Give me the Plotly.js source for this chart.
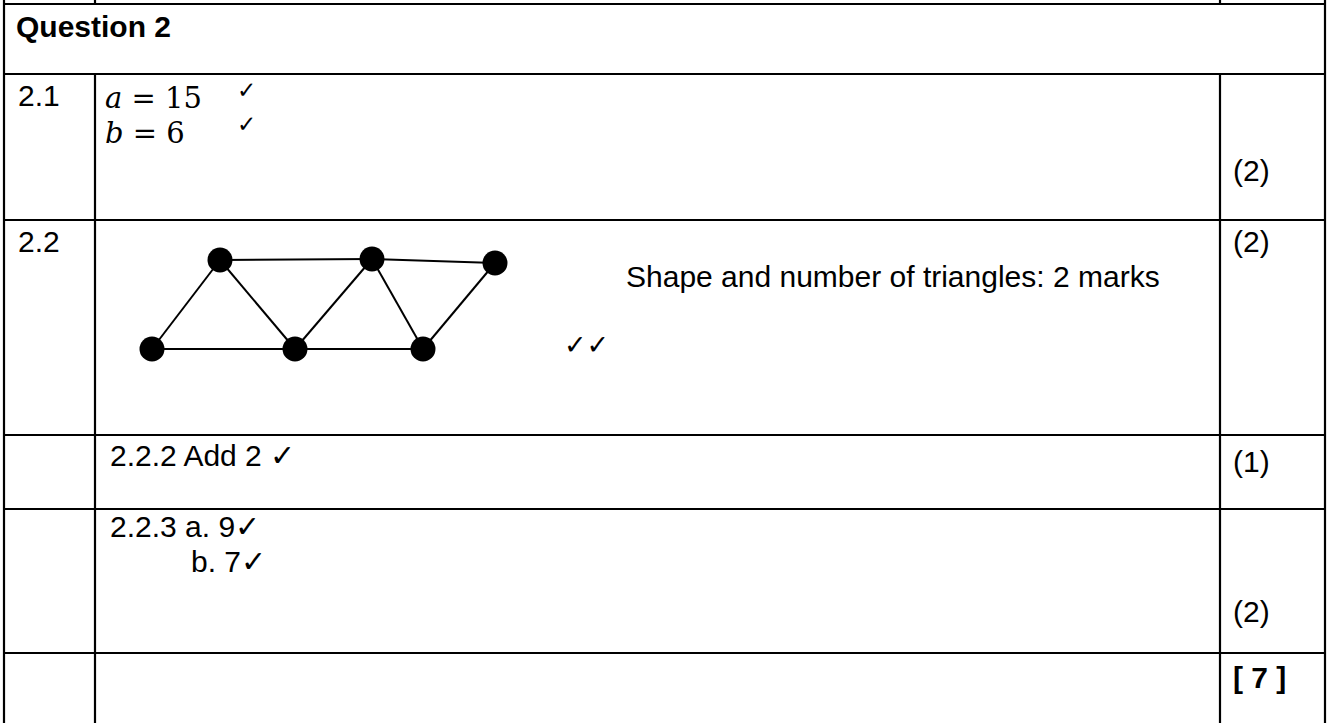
<!DOCTYPE html>
<html>
<head>
<meta charset="utf-8">
<script src="https://cdn.plot.ly/plotly-3.0.1.min.js"></script>
<style>html,body{margin:0;padding:0;background:#fff;}#chart{width:1328px;height:723px;}</style>
</head>
<body>
<div id="chart"></div>
<script>
// ---- data ----
const nodeX = [152, 220, 295, 372, 423, 495];
const nodeY = [349, 260, 349, 259, 349, 263];
const edgeFrom = [0, 1, 3, 0, 2, 1, 2, 3, 4];
const edgeTo   = [1, 3, 5, 2, 4, 2, 3, 4, 5];
const rowLabels = ["2.1", "2.2", "", "", ""];
const markLabels = ["(2)", "(2)", "(1)", "(2)", "<b>[ 7 ]</b>"];
const questionTitle = "Question 2";
const answer21 = ["<i>a</i> = 15", "<i>b</i> = 6"];
const answer22 = "Shape and number of triangles: 2 marks";
const answer222 = "2.2.2 Add 2 ✓";
const answer223 = ["2.2.3 a. 9✓", "b. 7✓"];
const tick = "✓";

// ---- layout constants ----
const W = 1328, H = 723;
const L = 4, R = 1325, C1 = 95, C2 = 1220;
const rowTops = [74, 220, 435, 509, 653];
const topLine = 4;
const sans = "Liberation Sans, Arial, sans-serif";
const serif = "DejaVu Serif, Liberation Serif, serif";
const black = "#000";

const shapes = [];
function ln(x0, y0, x1, y1, w) {
  shapes.push({type: "line", xref: "x", yref: "y", x0, y0, x1, y1, line: {color: black, width: w || 2.2}});
}
ln(L, 0, L, H); ln(R, 0, R, H);
ln(C1, 0, C1, topLine); ln(C2, 0, C2, topLine);
ln(L, topLine, R, topLine);
rowTops.forEach(y => ln(L, y, R, y));
ln(C1, rowTops[0], C1, H); ln(C2, rowTops[0], C2, H);

const ann = [];
function txt(x, y, t, size, fam) {
  ann.push({x, y, xref: "x", yref: "y", text: t, showarrow: false, xanchor: "left", yanchor: "middle",
    font: {family: fam || sans, size: size || 30, color: black}});
}
txt(14, 26, "<b>" + questionTitle + "</b>", 30);
rowLabels.forEach((r, i) => { if (r) txt(16, rowTops[i] + 21, r, 30); });
const markY = [170, 241, 461, 611, 677];
markLabels.forEach((m, i) => txt(1231, markY[i], m, 30));
// 2.1
txt(103, 98, answer21[0], 29, serif);
txt(103, 133, answer21[1], 29, serif);
txt(235, 90, tick, 23, "DejaVu Sans");
txt(235, 124, tick, 23, "DejaVu Sans");
// 2.2
txt(624, 276, answer22, 30);
txt(562, 344, tick + tick, 27, "DejaVu Sans");
// 2.2.2
txt(108, 455, answer222, 30);
// 2.2.3
txt(108, 526, answer223[0], 30);
txt(189, 561, answer223[1], 30);

// graph traces
const ex = [], ey = [];
edgeFrom.forEach((a, i) => { const b = edgeTo[i]; ex.push(nodeX[a], nodeX[b], null); ey.push(nodeY[a], nodeY[b], null); });
const traces = [
  {x: ex, y: ey, mode: "lines", line: {color: black, width: 2}, hoverinfo: "skip", showlegend: false},
  {x: nodeX, y: nodeY, mode: "markers", marker: {color: black, size: 25, line: {width: 0}}, hoverinfo: "skip", showlegend: false}
];

const layout = {
  width: W, height: H, margin: {l: 0, r: 0, t: 0, b: 0},
  paper_bgcolor: "#fff", plot_bgcolor: "#fff",
  xaxis: {range: [0, W], visible: false, fixedrange: true},
  yaxis: {range: [H, 0], visible: false, fixedrange: true},
  shapes, annotations: ann, showlegend: false
};
Plotly.newPlot("chart", traces, layout, {staticPlot: true, displayModeBar: false});
</script>
</body>
</html>
